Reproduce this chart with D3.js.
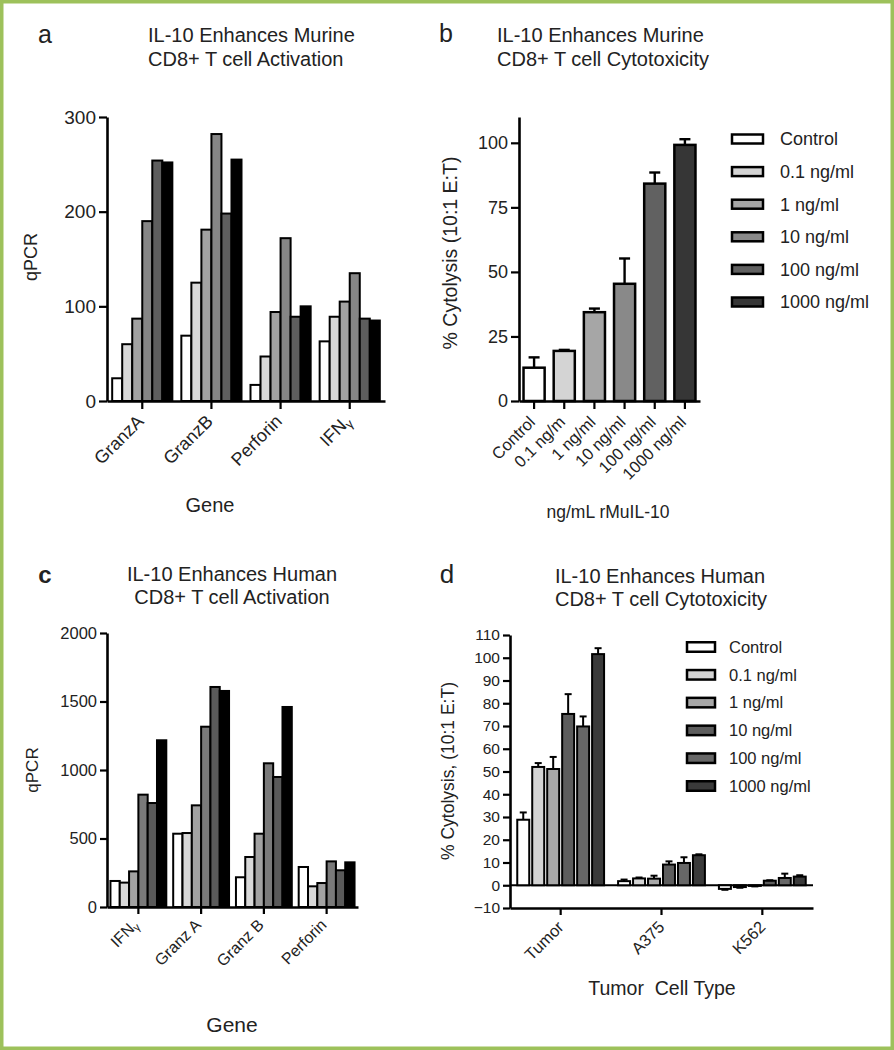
<!DOCTYPE html>
<html><head><meta charset="utf-8">
<script src="https://cdn.jsdelivr.net/npm/d3@7"></script>
<style>
body{margin:0;background:#fff}
svg{display:block}
text{font-family:"Liberation Sans",Arial,Helvetica,sans-serif;fill:#222}
</style>
</head><body>
<svg id="chart" width="894" height="1050"></svg>
<script>
// ---------- DATA ----------
const seriesNames = ["Control", "0.1 ng/ml", "1 ng/ml", "10 ng/ml", "100 ng/ml", "1000 ng/ml"];

// Panel a: murine qPCR
const aGenes = ["GranzA", "GranzB", "Perforin", "IFNγ"];
const aGranzA   = [24, 60, 87, 190, 254, 252];
const aGranzB   = [69, 125, 181, 282, 198, 255];
const aPerforin = [17, 47, 94, 172, 89, 100];
const aIFNg     = [63, 89, 105, 135, 87, 85];
const aTicks = [0, 100, 200, 300];

// Panel b: murine cytolysis
const bLabels = ["Control", "0.1 ng/m", "1 ng/ml", "10 ng/ml", "100 ng/ml", "1000 ng/ml"];
const bMeans  = [12.9, 19.4, 34.4, 45.4, 84.2, 99.2];
const bErrors = [4.0, 0.4, 1.4, 9.8, 4.3, 2.2];
const bTicks = [0, 25, 50, 75, 100];

// Panel c: human qPCR
const cGenes = ["IFNγ", "Granz A", "Granz B", "Perforin"];
const cIFNg     = [190, 178, 260, 820, 759, 1217];
const cGranzA   = [535, 540, 742, 1316, 1606, 1577];
const cGranzB   = [217, 365, 535, 1049, 949, 1460];
const cPerforin = [292, 151, 175, 333, 268, 326];
const cTicks = [0, 500, 1000, 1500, 2000];

// Panel d: human cytolysis
const dCells = ["Tumor", "A375", "K562"];
const dTumor     = [28.8, 52.0, 51.1, 75.3, 69.8, 101.6];
const dTumorErr  = [3.2, 1.7, 5.3, 8.7, 4.4, 2.6];
const dA375      = [1.8, 3.0, 2.9, 9.1, 9.8, 13.2];
const dA375Err   = [0.7, 0.4, 1.3, 1.4, 2.5, 0.4];
const dK562      = [-1.6, -0.8, -0.3, 2.0, 3.2, 3.8];
const dK562Err   = [0.4, 0.3, 0.2, 0.2, 1.9, 0.6];
const dTicks = [-10, 0, 10, 20, 30, 40, 50, 60, 70, 80, 90, 100, 110];

// fills
const aColors = ["#ffffff", "#d8d8d8", "#a2a2a2", "#868686", "#5e5e5e", "#000000"];
const bColors = ["#ffffff", "#d4d4d4", "#a6a6a6", "#898989", "#616161", "#363636"];
const cColors = ["#ffffff", "#d8d8d8", "#a2a2a2", "#7a7a7a", "#5a5a5a", "#000000"];
const dColors = ["#ffffff", "#d3d3d3", "#a8a8a8", "#5d5d5d", "#676767", "#3a3a3a"];

// ---------- DRAWING ----------
const FONT = '"Liberation Sans",Arial,Helvetica,sans-serif';
const svg = d3.select("#chart");
svg.append("rect").attr("x", 0).attr("y", 0).attr("width", 894).attr("height", 1050).attr("fill", "#fff");
svg.append("rect").attr("x", 1.75).attr("y", 1.75).attr("width", 894 - 3.5).attr("height", 1050 - 3.5)
  .attr("fill", "none").attr("stroke", "#9dc15b").attr("stroke-width", 3.5);

function txt(x, y, s, size, opts = {}) {
  const t = svg.append("text").attr("x", x).attr("y", y).attr("font-size", size)
    .attr("text-anchor", opts.anchor || "start").text(s);
  if (opts.weight) t.attr("font-weight", opts.weight);
  if (opts.rotate) t.attr("transform", `rotate(${opts.rotate},${x},${y})`);
  if (opts.pre) t.style("white-space", "pre");
  return t;
}

function drawPanel(o) {
  const g = svg.append("g");
  const y = d3.scaleLinear().domain(o.yDomain).range([o.yBottom, o.yTop]);
  const xg = d3.scaleBand().domain(o.categories).range([o.xLeft, o.xRight])
    .paddingInner(o.gpi).paddingOuter(o.gpo);
  const xs = d3.scaleBand().domain(d3.range(o.values[0].length)).range([0, xg.bandwidth()])
    .paddingInner(o.spi).paddingOuter(0);
  const base = y(0);

  if (o.zeroLine) {
    g.append("line").attr("x1", o.xLeft).attr("x2", o.xRight).attr("y1", base).attr("y2", base)
      .attr("stroke", "#000").attr("stroke-width", 2.2);
  }

  o.categories.forEach((cat, ci) => {
    const vals = o.values[ci];
    const gg = g.append("g").attr("transform", `translate(${xg(cat)},0)`);
    gg.selectAll("rect").data(vals).join("rect")
      .attr("x", (d, i) => xs(i))
      .attr("width", xs.bandwidth())
      .attr("y", d => Math.min(y(d), base))
      .attr("height", d => Math.abs(y(d) - base))
      .attr("fill", (d, i) => o.colorFn(ci, i))
      .attr("stroke", "#000").attr("stroke-width", o.barStroke);
    if (o.errors) {
      const errs = o.errors[ci];
      vals.forEach((v, i) => {
        const e = errs[i];
        const sgn = v >= 0 ? 1 : -1;
        const cx = xs(i) + xs.bandwidth() / 2;
        const y1 = y(v), y2 = y(v + sgn * e);
        gg.append("line").attr("x1", cx).attr("x2", cx).attr("y1", y1).attr("y2", y2)
          .attr("stroke", "#000").attr("stroke-width", o.errW);
        gg.append("line").attr("x1", cx - o.capW / 2).attr("x2", cx + o.capW / 2)
          .attr("y1", y2).attr("y2", y2).attr("stroke", "#000").attr("stroke-width", o.errW);
      });
    }
  });

  const ya = g.append("g").attr("transform", `translate(${o.xLeft},0)`)
    .call(d3.axisLeft(y).tickValues(o.yTicks).tickSize(o.tickLen).tickSizeOuter(0).tickPadding(3)
      .tickFormat(d3.format("d")));
  ya.attr("font-family", FONT);
  ya.select(".domain").attr("stroke", "#000").attr("stroke-width", o.axisW);
  ya.selectAll(".tick line").attr("stroke", "#000").attr("stroke-width", o.tickW);
  ya.selectAll(".tick text").attr("font-size", o.tickFont).attr("fill", "#222");

  const xa = g.append("g").attr("transform", `translate(0,${o.xAxisY})`)
    .call(d3.axisBottom(xg).tickSize(o.tickLen).tickSizeOuter(0));
  xa.attr("font-family", FONT);
  xa.select(".domain").attr("stroke", "#000").attr("stroke-width", o.axisW);
  xa.selectAll(".tick line").attr("stroke", "#000").attr("stroke-width", o.tickW);
  xa.selectAll(".tick text")
    .attr("font-size", o.xFont).attr("fill", "#222")
    .attr("text-anchor", "end").attr("x", 0).attr("y", 0).attr("dy", "0.35em")
    .attr("transform", `translate(${o.lblDx},${o.lblDy}) rotate(-45)`)
    .each(function (d) {
      if (d.endsWith("γ")) {
        const t = d3.select(this);
        t.text(d.slice(0, -1));
        t.append("tspan").attr("font-size", "0.7em").attr("dy", "0.25em").text("γ");
      }
    });
  return { y, xg };
}

function drawLegend(o) {
  const g = svg.append("g");
  seriesNames.forEach((s, i) => {
    const cy = o.y0 + i * o.step;
    g.append("rect").attr("x", o.x).attr("y", cy - o.h / 2).attr("width", o.w).attr("height", o.h)
      .attr("fill", o.colors[i]).attr("stroke", "#000").attr("stroke-width", 2.5);
    g.append("text").attr("x", o.tx).attr("y", cy).attr("dy", "0.35em")
      .attr("font-size", o.font).text(s);
  });
}

// ---- Panel a ----
txt(45, 43, "a", 25, { anchor: "middle" });
txt(148, 41.5, "IL-10 Enhances Murine", 20);
txt(148, 66, "CD8+ T cell Activation", 20);
drawPanel({
  categories: aGenes,
  values: [aGranzA, aGranzB, aPerforin, aIFNg],
  colorFn: (ci, si) => aColors[si],
  yDomain: [0, 300], yTicks: aTicks, yBottom: 401, yTop: 117,
  xLeft: 107, xRight: 385, gpi: 0.13, gpo: 0.075, spi: 0,
  xAxisY: 401, barStroke: 2, axisW: 2.6, tickW: 2.2, tickLen: 8,
  tickFont: 19, xFont: 18, lblDx: -2, lblDy: 17
});
txt(37, 257, "qPCR", 18, { anchor: "middle", rotate: -90 });
txt(210, 512, "Gene", 20, { anchor: "middle" });

// ---- Panel b ----
txt(446, 42, "b", 25, { anchor: "middle" });
txt(497, 42, "IL-10 Enhances Murine", 20);
txt(497, 66, "CD8+ T cell Cytotoxicity", 20);
drawPanel({
  categories: bLabels,
  values: bMeans.map(v => [v]),
  errors: bErrors.map(e => [e]),
  colorFn: (ci, si) => bColors[ci],
  yDomain: [0, 110], yTicks: bTicks, yBottom: 401, yTop: 117,
  xLeft: 519, xRight: 700, gpi: 0.3, gpo: 0.15, spi: 0,
  xAxisY: 401, barStroke: 2.5, axisW: 2.6, tickW: 2.2, tickLen: 8,
  errW: 2.4, capW: 11,
  tickFont: 18, xFont: 16.5, lblDx: -2, lblDy: 18
});
txt(457, 253, "% Cytolysis (10:1 E:T)", 19.5, { anchor: "middle", rotate: -90 });
txt(608, 518, "ng/mL rMuIL-10", 17.5, { anchor: "middle" });
drawLegend({ x: 732, w: 31, h: 9, y0: 139, step: 32.6, tx: 780, font: 18, colors: bColors });

// ---- Panel c ----
txt(45, 583, "c", 24, { anchor: "middle", weight: "bold" });
txt(232, 581, "IL-10 Enhances Human", 20, { anchor: "middle" });
txt(232, 603.5, "CD8+ T cell Activation", 20, { anchor: "middle" });
drawPanel({
  categories: cGenes,
  values: [cIFNg, cGranzA, cGranzB, cPerforin],
  colorFn: (ci, si) => cColors[si],
  yDomain: [0, 2000], yTicks: cTicks, yBottom: 907, yTop: 633,
  xLeft: 107, xRight: 358, gpi: 0.11, gpo: 0.055, spi: 0,
  xAxisY: 907, barStroke: 2, axisW: 2.6, tickW: 2.2, tickLen: 7,
  tickFont: 16.5, xFont: 16, lblDx: -3, lblDy: 15
});
txt(38, 770, "qPCR", 17, { anchor: "middle", rotate: -90 });
txt(232, 1032, "Gene", 21, { anchor: "middle" });

// ---- Panel d ----
txt(447, 583, "d", 26, { anchor: "middle" });
txt(660, 583, "IL-10 Enhances Human", 20, { anchor: "middle" });
txt(661, 605.5, "CD8+ T cell Cytotoxicity", 20, { anchor: "middle" });
drawPanel({
  categories: dCells,
  values: [dTumor, dA375, dK562],
  errors: [dTumorErr, dA375Err, dK562Err],
  colorFn: (ci, si) => dColors[si],
  yDomain: [-10, 110], yTicks: dTicks, yBottom: 908, yTop: 635,
  xLeft: 510, xRight: 813, gpi: 0.139, gpo: 0.072, spi: 0.2,
  xAxisY: 908, barStroke: 2, axisW: 2.6, tickW: 2.2, tickLen: 7,
  errW: 2, capW: 7, zeroLine: true,
  tickFont: 15.5, xFont: 16.5, lblDx: 0, lblDy: 16
});
txt(454, 771, "% Cytolysis, (10:1 E:T)", 17.5, { anchor: "middle", rotate: -90 });
txt(662, 995, "Tumor  Cell Type", 19.5, { anchor: "middle", pre: true });
drawLegend({ x: 687, w: 28, h: 9.5, y0: 647, step: 27.8, tx: 729, font: 16.5, colors: dColors });
</script>
</body></html>
